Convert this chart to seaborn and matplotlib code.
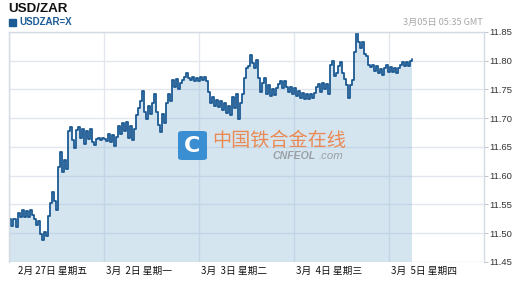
import numpy as np
import pandas as pd
import matplotlib
matplotlib.use("Agg")
import matplotlib.pyplot as plt
from matplotlib.patches import FancyBboxPatch
import matplotlib.transforms as mtransforms
import seaborn as sns

# ---- data (USD/ZAR, sampled evenly in time, 2/27 -> 3/5 05:35 GMT) ----
rate_0227 = [11.525, 11.512, 11.524, 11.510, 11.536, 11.528, 11.540, 11.528, 11.538, 11.529,
             11.540, 11.531, 11.525, 11.514, 11.522, 11.498, 11.489, 11.503, 11.495, 11.530,
             11.553, 11.572, 11.556, 11.540, 11.615, 11.642, 11.606, 11.627, 11.612, 11.677,
             11.684, 11.662, 11.648, 11.680, 11.685, 11.666, 11.682, 11.655, 11.678, 11.664,
             11.682, 11.658, 11.653, 11.664, 11.665, 11.663, 11.666, 11.664]
rate_0302 = [11.660, 11.672, 11.658, 11.670, 11.652, 11.667, 11.687, 11.672, 11.692, 11.677,
             11.694, 11.666, 11.687, 11.662, 11.682, 11.705, 11.717, 11.730, 11.747, 11.710,
             11.698, 11.722, 11.708, 11.727, 11.742, 11.710, 11.688, 11.676, 11.707, 11.692,
             11.727, 11.742, 11.730, 11.767, 11.755, 11.768, 11.750, 11.762, 11.766, 11.772,
             11.778, 11.770, 11.766, 11.772, 11.764, 11.770, 11.765, 11.771]
rate_0303 = [11.766, 11.771, 11.764, 11.745, 11.726, 11.737, 11.722, 11.732, 11.719, 11.730,
             11.715, 11.727, 11.709, 11.722, 11.705, 11.737, 11.717, 11.742, 11.699, 11.727,
             11.742, 11.770, 11.787, 11.790, 11.810, 11.796, 11.788, 11.802, 11.770, 11.746,
             11.762, 11.770, 11.743, 11.757, 11.738, 11.750, 11.740, 11.752, 11.760, 11.764,
             11.753, 11.765, 11.755, 11.746, 11.754, 11.743, 11.752]
rate_0304 = [11.738, 11.747, 11.735, 11.744, 11.733, 11.743, 11.733, 11.742, 11.735, 11.744,
             11.754, 11.760, 11.746, 11.762, 11.750, 11.760, 11.743, 11.792, 11.800, 11.773,
             11.778, 11.790, 11.797, 11.778, 11.768, 11.758, 11.735, 11.757, 11.767, 11.815,
             11.849, 11.833, 11.822, 11.832, 11.812, 11.808, 11.793, 11.789, 11.792, 11.783,
             11.790, 11.778, 11.786, 11.776, 11.788, 11.792, 11.780, 11.789]
rate_0305 = [11.780, 11.787, 11.778, 11.788, 11.792, 11.797, 11.790, 11.798, 11.791, 11.799,
             11.803]

day_labels = ["2月 27日 星期五", "3月  2日 星期一", "3月  3日 星期二", "3月  4日 星期三", "3月  5日 星期四"]
y_ticks = [11.45, 11.50, 11.55, 11.60, 11.65, 11.70, 11.75, 11.80, 11.85]
title = "USD/ZAR"
symbol = "USDZAR=X"
stamp = "3月05日 05:35 GMT"

values = rate_0227 + rate_0302 + rate_0303 + rate_0304 + rate_0305
step_days = 2 / 94.9
df = pd.DataFrame({"t": np.arange(len(values)) * step_days, "rate": values})

# ---- style ----
sns.set_style("white")
plt.rcParams["font.family"] = ["Liberation Sans", "Noto Sans CJK SC", "DejaVu Sans"]

W, H = 526, 292
fig = plt.figure(figsize=(W / 100, H / 100), dpi=100)
left, right, top, bottom = 9.5, 484, 32, 262
ax = fig.add_axes([left / W, 1 - bottom / H, (right - left) / W, (bottom - top) / H])

line_c = "#1d5a93"
grid_c = "#e3e7ed"

ax.set_axisbelow(True)
ax.set_xlim(0, 5)
ax.set_ylim(11.45, 11.85)
ax.set_yticks(y_ticks)
ax.set_xticks(range(5))
ax.grid(True, color=grid_c, linewidth=1.0)

ax.fill_between(df["t"], df["rate"], 11.45, step="post", color="#7fb1d3", alpha=0.32, linewidth=0)
sns.lineplot(data=df, x="t", y="rate", ax=ax, color=line_c, linewidth=1.3,
             drawstyle="steps-post")

for s in ["left", "top", "right"]:
    ax.spines[s].set_color("#d5dbe3")
    ax.spines[s].set_linewidth(1.0)
ax.spines["bottom"].set_visible(False)

ax.yaxis.tick_right()
ax.tick_params(axis="y", direction="out", length=3, width=0.6, color="#b0b8c2",
               labelsize=6.8, labelcolor="#333333", pad=1)
ax.set_yticklabels([f"{v:.2f}" for v in y_ticks])
ax.tick_params(axis="x", direction="out", length=4, width=0.9, color="#a9bfd6",
               labelbottom=False)
ax.set_xlabel("")
ax.set_ylabel("")

trans = mtransforms.blended_transform_factory(ax.transData, fig.transFigure)
for i, lab in enumerate(day_labels):
    off = 8.5 if i == 0 else 2
    ax.text(i + off / 94.9, 1 - 271 / H, lab, transform=trans, ha="left", va="center",
            fontsize=7, color="#111111",
            fontfamily=["Noto Sans CJK SC", "DejaVu Sans"])

# header
fig.text(8 / W, 1 - 9 / H, title, fontsize=9.6, fontweight="bold", color="#111111",
         ha="left", va="center")
fig.patches.append(plt.Rectangle((9 / W, 1 - 25.5 / H), 7 / W, 7 / H, transform=fig.transFigure,
                                 color="#1c5b96", figure=fig))
fig.text(19 / W, 1 - 22 / H, symbol, fontsize=7, fontweight="bold", color="#1c5b96",
         ha="left", va="center")
fig.text(483 / W, 1 - 22 / H, stamp, fontsize=6.6, color="#a8a8a8", ha="right", va="center",
         fontfamily=["Noto Sans CJK SC", "DejaVu Sans"])

# watermark logo
fig.patches.append(FancyBboxPatch((178 / W, 1 - 160 / H), 29 / W, 29 / H,
                                  boxstyle="round,pad=0,rounding_size=0.008",
                                  transform=fig.transFigure, facecolor="#3a8fd2",
                                  edgecolor="none", figure=fig))
fig.text(192.5 / W, 1 - 145.5 / H, "C", fontsize=16, fontweight="bold", color="white",
         ha="center", va="center", fontfamily="DejaVu Sans")
fig.text(212 / W, 1 - 140.5 / H, "中国铁合金在线", fontsize=13.8, color="#e98a55",
         ha="left", va="center", fontfamily=["Noto Sans CJK SC"])
fig.text(272 / W, 1 - 156 / H, "CNFEOL", fontsize=7.6, fontweight="bold", style="italic",
         color="#9aa0a6", ha="left", va="center")
fig.text(319 / W, 1 - 156 / H, ".com", fontsize=8.2, style="italic",
         color="#9aa0a6", ha="left", va="center")

fig.savefig("out.png", dpi=100)
